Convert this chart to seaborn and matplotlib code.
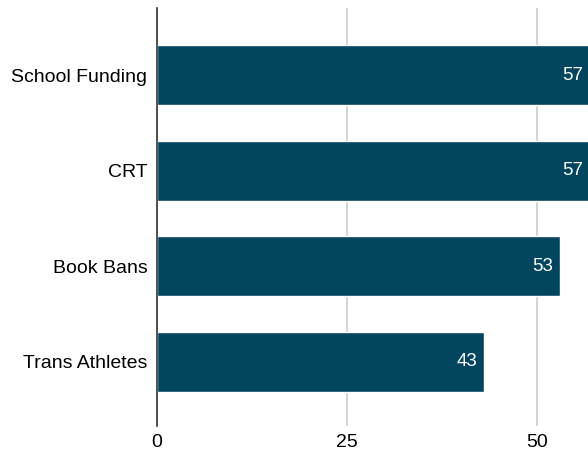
import matplotlib.pyplot as plt
import pandas as pd
import seaborn as sns

# datos
topics = ['School Funding', 'CRT', 'Book Bans', 'Trans Athletes']
values = [57, 57, 53, 43]
bar_color = '#02455F'

df = pd.DataFrame({'topic': topics, 'value': values})

sns.set_style('white')
plt.rcParams['font.family'] = ['Liberation Sans', 'DejaVu Sans']

fig = plt.figure(figsize=(5.88, 4.54), dpi=100)
ax = fig.add_axes([0.267, 0.0617, 0.733, 0.9203])

sns.barplot(data=df, x='value', y='topic', orient='h', color=bar_color,
            saturation=1, width=0.625, ax=ax, zorder=3)

# etiquetas dentro de la barra
for i, v in enumerate(values):
    ax.text(v - 0.9, i, str(v), ha='right', va='center', color='white', fontsize=13.5, zorder=4)

ax.set_xlim(0, 56.7)
ax.set_ylim(3.67, -0.70)
ax.set_xticks([0, 25, 50])
ax.xaxis.grid(True, color='#cccccc', linewidth=1.2, zorder=0)
ax.set_xlabel('')
ax.set_ylabel('')
ax.tick_params(axis='both', length=0, labelsize=14, colors='black')
ax.tick_params(axis='y', pad=7)
ax.tick_params(axis='x', pad=6)

for s in ['top', 'right', 'bottom']:
    ax.spines[s].set_visible(False)
ax.spines['left'].set_color('#333333')
ax.spines['left'].set_linewidth(1.2)
ax.spines['left'].set_zorder(5)

fig.savefig('out.png', dpi=100)
